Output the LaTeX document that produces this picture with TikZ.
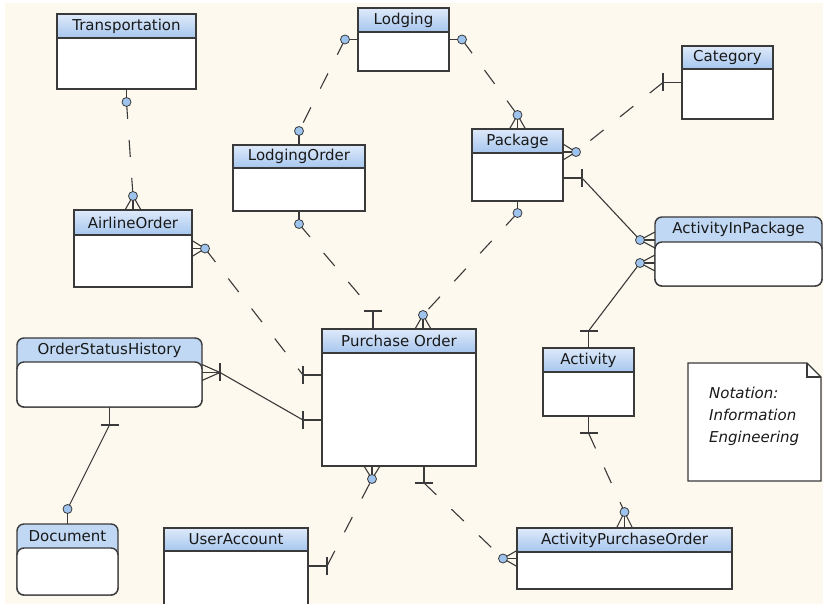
\documentclass[tikz,border=0pt]{standalone}
\usepackage{fontspec}
\setmainfont{DejaVu Sans}
\usetikzlibrary{calc}

\definecolor{paper}{RGB}{253,249,238}
\definecolor{headtop}{RGB}{222,234,250}
\definecolor{headbottom}{RGB}{166,198,238}
\definecolor{headflat}{RGB}{192,216,244}
\definecolor{ringblue}{RGB}{158,196,238}
\definecolor{edge}{RGB}{58,58,58}

% relationship ends: #1 point on the box, #2 end of the stub
\newcommand{\zeroOne}[2]{%
	\draw [rel] (#1) -- (#2);
	\draw [ring] (#2) circle [radius = 4.5];}
\newcommand{\zeroMany}[2]{%
	\draw [rel] ($(#1)!8pt!90:(#2)$) -- (#2) -- ($(#1)!8pt!-90:(#2)$);
	\draw [rel] (#1) -- (#2);
	\draw [ring] (#2) circle [radius = 4.5];}
\newcommand{\justOne}[2]{%
	\draw [rel] (#1) -- (#2);
	\draw [rel] ($(#2)!9pt!90:(#1)$) -- ($(#2)!9pt!-90:(#1)$);}
\newcommand{\oneMany}[2]{%
	\draw [rel] ($(#1)!8pt!90:(#2)$) -- (#2) -- ($(#1)!8pt!-90:(#2)$);
	\draw [rel] (#1) -- (#2);
	\draw [rel] ($(#2)!9pt!90:(#1)$) -- ($(#2)!9pt!-90:(#1)$);}

\begin{document}
\begin{tikzpicture}[x = 1pt, y = -1pt,
	entity/.style = {draw = edge, line width = 1.4, fill = white, anchor = north west, inner sep = 0, outer sep = 0},
	header/.style = {draw = edge, line width = 1.4, top color = headtop, bottom color = headbottom, anchor = north west, minimum height = 24, inner sep = 0, outer sep = 0, font = \fontsize{15}{18}\selectfont, text = black!90},
	body/.style = {draw = edge, line width = 1.4, fill = white, rounded corners = 7},
	caption/.style = {font = \fontsize{15}{18}\selectfont, text = black!90, inner sep = 0},
	rel/.style = {draw = edge, line width = 1.1},
	opt/.style = {rel, dash pattern = on 17pt off 21pt},
	ring/.style = {draw = edge, line width = 0.8, fill = ringblue}]

	\useasboundingbox (0, 0) rectangle (823, 604);
	\clip (0, 0) rectangle (823, 604);
	\fill [white] (0, 0) rectangle (823, 604);
	\fill [paper] (5, 3) rectangle (823, 604);

	% Entities

	\node [entity, minimum width = 139, minimum height = 75] (transport) at (57, 14) {};
	\node [header, minimum width = 139] (transport-t) at (transport.north west) {Transportation};

	\node [entity, minimum width = 91, minimum height = 63] (lodging) at (358, 8) {};
	\node [header, minimum width = 91] (lodging-t) at (lodging.north west) {Lodging};

	\node [entity, minimum width = 91, minimum height = 73] (category) at (682, 46) {};
	\node [header, minimum width = 91, minimum height = 23] (category-t) at (category.north west) {Category};

	\node [entity, minimum width = 91, minimum height = 72] (package) at (472, 129) {};
	\node [header, minimum width = 91] (package-t) at (package.north west) {Package};

	\node [entity, minimum width = 132, minimum height = 66] (lodgingorder) at (233, 145) {};
	\node [header, minimum width = 132, minimum height = 23] (lodgingorder-t) at (lodgingorder.north west) {LodgingOrder};

	\node [entity, minimum width = 118, minimum height = 77] (airline) at (74, 210) {};
	\node [header, minimum width = 118, minimum height = 25] (airline-t) at (airline.north west) {AirlineOrder};

	\node [entity, rounded corners = 7, fill = headflat, minimum width = 167, minimum height = 69] (actpackage) at (655, 217) {};
	\draw [body] ([yshift = -25pt]actpackage.north west) rectangle (actpackage.south east);
	\node [caption] (actpackage-t) at ([yshift = -12.5pt]actpackage.north) {ActivityInPackage};

	\node [entity, rounded corners = 7, fill = headflat, minimum width = 185, minimum height = 69] (statushist) at (17, 338) {};
	\draw [body] ([yshift = -24pt]statushist.north west) rectangle (statushist.south east);
	\node [caption] (statushist-t) at ([yshift = -12pt]statushist.north) {OrderStatusHistory};

	\node [entity, minimum width = 154, minimum height = 137] (purchase) at (322, 329) {};
	\node [header, minimum width = 154] (purchase-t) at (purchase.north west) {Purchase Order};

	\node [entity, minimum width = 91, minimum height = 68] (activity) at (543, 348) {};
	\node [header, minimum width = 91] (activity-t) at (activity.north west) {Activity};

	\node [entity, rounded corners = 7, fill = headflat, minimum width = 101, minimum height = 71] (document) at (17, 524) {};
	\draw [body] ([yshift = -24pt]document.north west) rectangle (document.south east);
	\node [caption] (document-t) at ([yshift = -12pt]document.north) {Document};

	\node [entity, minimum width = 144, minimum height = 80] (useraccount) at (164, 528) {};
	\node [header, minimum width = 144, minimum height = 23] (useraccount-t) at (useraccount.north west) {UserAccount};

	\node [entity, minimum width = 215, minimum height = 61] (actpurchase) at (517, 528) {};
	\node [header, minimum width = 215] (actpurchase-t) at (actpurchase.north west) {ActivityPurchaseOrder};

	% Note

	\draw [draw = edge, line width = 1.2, fill = white] (688, 363) -- (807, 363) -- (821, 377) -- (821, 481) -- (688, 481) -- cycle;
	\draw [draw = edge, line width = 1.2] (807, 363) -- (807, 377) -- (821, 377);
	\node [caption, anchor = north west, align = left, font = \itshape\fontsize{15}{22}\selectfont] (notation) at (709, 387) {Notation:\\Information\\Engineering};

	% Relationships

	% Transportation -- AirlineOrder
	\coordinate (transport-s) at ([yshift = -13pt]transport.south);
	\coordinate (airline-n) at ([yshift = 14pt]airline.north);
	\draw [opt] (transport-s) -- (airline-n);
	\zeroOne{transport.south}{transport-s}
	\zeroMany{airline.north}{airline-n}

	% Lodging -- LodgingOrder
	\coordinate (lodging-w) at ([xshift = -13pt]lodging.west);
	\coordinate (lodgingorder-n) at ([yshift = 14pt]lodgingorder.north);
	\draw [opt] (lodging-w) -- (lodgingorder-n);
	\zeroOne{lodging.west}{lodging-w}
	\zeroOne{lodgingorder.north}{lodgingorder-n}

	% Lodging -- Package
	\coordinate (lodging-e) at ([xshift = 13pt]lodging.east);
	\coordinate (package-n) at ([yshift = 14pt]package.north);
	\draw [opt] (lodging-e) -- (package-n);
	\zeroOne{lodging.east}{lodging-e}
	\zeroMany{package.north}{package-n}

	% Category -- Package
	\coordinate (category-w) at ([xshift = -19pt]category.west);
	\coordinate (package-e1) at ([yshift = -23pt]package.north east);
	\coordinate (package-e1s) at ([xshift = 13pt]package-e1);
	\draw [opt] (category-w) -- (package-e1s);
	\justOne{category.west}{category-w}
	\zeroMany{package-e1}{package-e1s}

	% Package -- ActivityInPackage
	\coordinate (package-e2) at ([yshift = 23pt]package.south east);
	\coordinate (package-e2s) at ([xshift = 19pt]package-e2);
	\coordinate (actpackage-w1) at ([yshift = -23pt]actpackage.north west);
	\coordinate (actpackage-w1s) at ([xshift = -15pt]actpackage-w1);
	\draw [rel] (package-e2s) -- (actpackage-w1s);
	\justOne{package-e2}{package-e2s}
	\zeroMany{actpackage-w1}{actpackage-w1s}

	% Activity -- ActivityInPackage
	\coordinate (activity-n) at ([yshift = 17pt]activity.north);
	\coordinate (actpackage-w2) at ([yshift = 23pt]actpackage.south west);
	\coordinate (actpackage-w2s) at ([xshift = -15pt]actpackage-w2);
	\draw [rel] (activity-n) -- (actpackage-w2s);
	\justOne{activity.north}{activity-n}
	\zeroMany{actpackage-w2}{actpackage-w2s}

	% LodgingOrder -- Purchase Order
	\coordinate (lodgingorder-s) at ([yshift = -13pt]lodgingorder.south);
	\coordinate (purchase-n1) at ([xshift = -26pt]purchase.north);
	\coordinate (purchase-n1s) at ([yshift = 18pt]purchase-n1);
	\draw [opt] (lodgingorder-s) -- (purchase-n1s);
	\zeroOne{lodgingorder.south}{lodgingorder-s}
	\justOne{purchase-n1}{purchase-n1s}

	% Package -- Purchase Order
	\coordinate (package-s) at ([yshift = -12pt]package.south);
	\coordinate (purchase-n2) at ([xshift = 24pt]purchase.north);
	\coordinate (purchase-n2s) at ([yshift = 14pt]purchase-n2);
	\draw [opt] (package-s) -- (purchase-n2s);
	\zeroOne{package.south}{package-s}
	\zeroMany{purchase-n2}{purchase-n2s}

	% AirlineOrder -- Purchase Order
	\coordinate (airline-e) at ([xshift = 13pt]airline.east);
	\coordinate (purchase-w1) at ([yshift = 22.5pt]purchase.west);
	\coordinate (purchase-w1s) at ([xshift = -19pt]purchase-w1);
	\draw [opt] (airline-e) -- (purchase-w1s);
	\zeroMany{airline.east}{airline-e}
	\justOne{purchase-w1}{purchase-w1s}

	% OrderStatusHistory -- Purchase Order
	\coordinate (statushist-e) at ([xshift = 18pt]statushist.east);
	\coordinate (purchase-w2) at ([yshift = -22.5pt]purchase.west);
	\coordinate (purchase-w2s) at ([xshift = -19pt]purchase-w2);
	\draw [rel] (statushist-e) -- (purchase-w2s);
	\oneMany{statushist.east}{statushist-e}
	\justOne{purchase-w2}{purchase-w2s}

	% OrderStatusHistory -- Document
	\coordinate (statushist-s) at ([yshift = -18pt]statushist.south);
	\coordinate (document-n) at ([yshift = 15pt]document.north);
	\draw [rel] (statushist-s) -- (document-n);
	\justOne{statushist.south}{statushist-s}
	\zeroOne{document.north}{document-n}

	% UserAccount -- Purchase Order
	\coordinate (useraccount-e) at ([yshift = -38pt]useraccount.north east);
	\coordinate (useraccount-es) at ([xshift = 19pt]useraccount-e);
	\coordinate (purchase-s1) at ([xshift = -27pt]purchase.south);
	\coordinate (purchase-s1s) at ([yshift = -13pt]purchase-s1);
	\draw [opt] (useraccount-es) -- (purchase-s1s);
	\justOne{useraccount-e}{useraccount-es}
	\zeroMany{purchase-s1}{purchase-s1s}

	% Purchase Order -- ActivityPurchaseOrder
	\coordinate (purchase-s2) at ([xshift = 25pt]purchase.south);
	\coordinate (purchase-s2s) at ([yshift = -17pt]purchase-s2);
	\coordinate (actpurchase-w) at ([xshift = -14pt]actpurchase.west);
	\draw [opt] (purchase-s2s) -- (actpurchase-w);
	\justOne{purchase-s2}{purchase-s2s}
	\zeroMany{actpurchase.west}{actpurchase-w}

	% Activity -- ActivityPurchaseOrder
	\coordinate (activity-s) at ([yshift = -17pt]activity.south);
	\coordinate (actpurchase-n) at ([yshift = 16pt]actpurchase.north);
	\draw [opt] (activity-s) -- (actpurchase-n);
	\justOne{activity.south}{activity-s}
	\zeroMany{actpurchase.north}{actpurchase-n}

\end{tikzpicture}
\end{document}
